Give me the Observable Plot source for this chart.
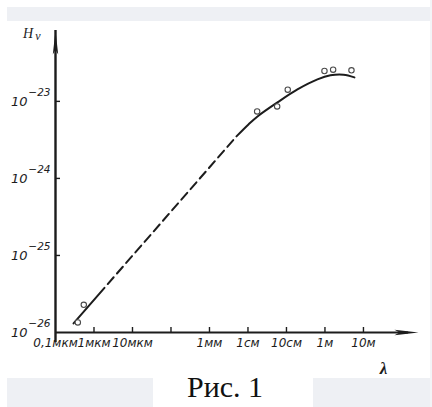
<!DOCTYPE html>
<html><head><meta charset="utf-8">
<script src="https://cdn.jsdelivr.net/npm/d3@7"></script>
<script src="https://cdn.jsdelivr.net/npm/@observablehq/plot@0.6"></script>
<style>
html,body{margin:0;padding:0;background:#fff;width:432px;height:407px;overflow:hidden;}
#wrap{position:relative;width:432px;height:407px;}
.band{position:absolute;background:#eef0f4;}
#chart{position:absolute;left:0;top:0;}
#caption{position:absolute;left:187px;top:372px;font-family:"Liberation Serif","Times New Roman",serif;font-size:30px;color:#111;line-height:30px;white-space:nowrap;}
</style></head>
<body><div id="wrap">
<div class="band" style="left:7px;top:7px;width:423px;height:14px"></div>
<div class="band" style="left:7px;top:378px;width:146px;height:29px"></div>
<div class="band" style="left:313px;top:378px;width:117px;height:29px"></div>
<div class="band" style="left:430px;top:0px;width:2px;height:407px;background:#f3f4f7"></div>
<div id="chart"></div>
<div id="caption">Рис. 1</div>
</div>
<script>
// Wavelength λ (m) and H_ν values
const curveLowLam = [2.94e-7, 1.87e-6];
const curveLowH   = [1.31e-26, 3.80e-26];
const curveDashLam = [1.87e-6, 5.02e-3];
const curveDashH   = [3.80e-26, 3.51e-24];
const curveUpLam = [5.02e-3, 1.03e-2, 1.77e-2, 5.83e-2, 0.193, 0.638, 1.39, 3.03, 5.83];
const curveUpH   = [3.51e-24, 5.02e-24, 6.38e-24, 9.70e-24, 1.43e-23, 1.93e-23, 2.18e-23, 2.22e-23, 2.05e-23];
const obsLam = [3.8e-7, 5.43e-7, 1.73e-2, 5.73e-2, 0.108, 0.97, 1.63, 4.88];
const obsH   = [1.35e-26, 2.29e-26, 7.41e-24, 8.61e-24, 1.42e-23, 2.48e-23, 2.58e-23, 2.53e-23];

const xTickValues = [1e-6, 1e-5, 1e-4, 1e-3, 1e-2, 1e-1, 1, 10];
const xLabelValues = [1e-7, 1e-6, 1e-5, 1e-3, 1e-2, 1e-1, 1, 10];
const xLabels = ["0,1мкм", "1мкм", "10мкм", "1мм", "1см", "10см", "1м", "10м"];
const yTickValues = [1e-23, 1e-24, 1e-25];
const yLabelValues = [1e-23, 1e-24, 1e-25, 1e-26];
const yExpLabels = ["−23", "−24", "−25", "−26"];

const xMin = 1e-7, xMax = Math.pow(10, 2.43);
const yMin = 1e-26, yMax = Math.pow(10, -22.08);

const toPts = (xs, ys) => xs.map((x, i) => ({x, y: ys[i]}));
const ink = "#1c1c1c";

const arrowSym = {
  draw(ctx) {
    ctx.moveTo(0, 0);
    ctx.lineTo(-24, -2.7);
    ctx.lineTo(-19, 0);
    ctx.lineTo(-24, 2.7);
    ctx.closePath();
  }
};

const chart = Plot.plot({
  width: 432,
  height: 407,
  marginLeft: 55,
  marginRight: 14,
  marginTop: 30,
  marginBottom: 75,
  style: {background: "transparent", overflow: "visible"},
  x: {type: "log", domain: [xMin, xMax], axis: null},
  y: {type: "log", domain: [yMin, yMax], axis: null},
  marks: [
    // axes
    Plot.ruleY([yMin], {x1: xMin, x2: xMax, stroke: ink, strokeWidth: 2.2, insetRight: 10}),
    Plot.ruleX([xMin], {y1: yMin, y2: yMax, stroke: ink, strokeWidth: 2.4, insetTop: 10}),
    Plot.dot([{x: xMax, y: yMin}], {x: "x", y: "y", symbol: arrowSym, fill: ink, stroke: "none", r: 5}),
    Plot.dot([{x: xMin, y: yMax}], {x: "x", y: "y", symbol: arrowSym, fill: ink, stroke: "none", r: 5, rotate: -90}),
    // ticks (pointing inward)
    Plot.ruleX(xTickValues, {x: d => d, y1: yMin, y2: yMin, insetBottom: 5, stroke: ink, strokeWidth: 1.4}),
    Plot.ruleY(yTickValues, {y: d => d, x1: xMin, x2: xMin, insetRight: -5, stroke: ink, strokeWidth: 1.4}),
    // tick labels
    Plot.text(xLabelValues, {x: d => d, y: yMin, text: (d, i) => xLabels[i], dy: 11,
      fontSize: 12, fontStyle: "italic", fontFamily: "DejaVu Sans", fill: ink, textAnchor: "middle"}),
    Plot.text(yLabelValues, {x: xMin, y: d => d, text: () => "10", dx: -28, textAnchor: "end",
      fontSize: 13, fontStyle: "italic", fontFamily: "DejaVu Sans", fill: ink}),
    Plot.text(yLabelValues, {x: xMin, y: d => d, text: (d, i) => yExpLabels[i], dx: -5, dy: -9, textAnchor: "end",
      fontSize: 10.5, fontStyle: "italic", fontFamily: "DejaVu Sans", fill: ink}),
    // axis titles
    Plot.text(["H"], {x: xMin, y: yMax, text: d => d, dx: -27.5, dy: 3,
      fontSize: 14, fontStyle: "italic", fontFamily: "Liberation Serif", fill: ink}),
    Plot.text(["ν"], {x: xMin, y: yMax, text: d => d, dx: -17.5, dy: 6,
      fontSize: 12, fontStyle: "italic", fontFamily: "Liberation Serif", fill: ink}),
    Plot.text(["λ"], {x: xMax, y: yMin, text: d => d, dx: -35, dy: 36,
      fontSize: 17, fontStyle: "italic", fontWeight: "bold", fontFamily: "Liberation Serif", fill: ink}),
    // curve
    Plot.line(toPts(curveLowLam, curveLowH), {x: "x", y: "y", stroke: ink, strokeWidth: 2}),
    Plot.line(toPts(curveDashLam, curveDashH), {x: "x", y: "y", stroke: ink, strokeWidth: 2,
      strokeDasharray: "9,5", strokeDashoffset: 9}),
    Plot.line(toPts(curveUpLam, curveUpH), {x: "x", y: "y", stroke: ink, strokeWidth: 2, curve: "catmull-rom"}),
    // observations
    Plot.dot(toPts(obsLam, obsH), {x: "x", y: "y", r: 2.7, stroke: "#4a4a4a", strokeWidth: 1.1, fill: "white"})
  ]
});
document.getElementById("chart").appendChild(chart);
</script>
</body></html>
